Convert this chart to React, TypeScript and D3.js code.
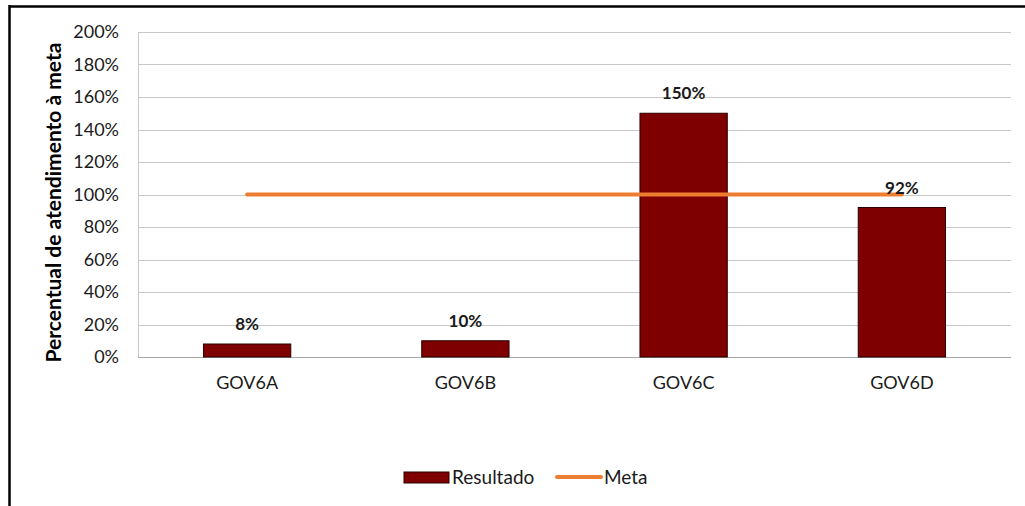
import { useEffect, useRef } from 'react';
import * as d3 from 'd3';

const categories = ['GOV6A', 'GOV6B', 'GOV6C', 'GOV6D'];
const resultado = [8, 10, 150, 92];
const meta = [100, 100, 100, 100];
const yTicks = [0, 20, 40, 60, 80, 100, 120, 140, 160, 180, 200];

const FONT = 'Lato, "Open Sans", sans-serif';

const App = () => {
    const svgRef = useRef<SVGSVGElement | null>(null);

    useEffect(() => {
        if (!svgRef.current) return;
        const svg = d3.select(svgRef.current);
        svg.selectAll('*').remove();

        const width = 1025;
        const height = 506;
        const margin = { top: 32, right: 14, bottom: 149, left: 138 };

        // outer frame (left and top edges visible)
        svg.append('line').attr('x1', 9).attr('x2', width).attr('y1', 6.5).attr('y2', 6.5)
            .attr('stroke', '#000').attr('stroke-width', 2.5);
        svg.append('line').attr('x1', 9.5).attr('x2', 9.5).attr('y1', 5).attr('y2', height)
            .attr('stroke', '#000').attr('stroke-width', 2.5);

        const x = d3.scaleBand<string>()
            .domain(categories)
            .range([margin.left, width - margin.right])
            .paddingInner(0.6)
            .paddingOuter(0.3);

        const y = d3.scaleLinear()
            .domain([0, 200])
            .range([height - margin.bottom, margin.top]);

        // gridlines
        svg.append('g')
            .selectAll('line')
            .data(yTicks)
            .join('line')
            .attr('x1', margin.left)
            .attr('x2', width - margin.right)
            .attr('y1', (d) => Math.round(y(d)) + 0.5)
            .attr('y2', (d) => Math.round(y(d)) + 0.5)
            .attr('stroke', (d) => (d === 0 ? '#a6a6a6' : '#c8c8c8'))
            .attr('stroke-width', 1);

        // y-axis line
        svg.append('line')
            .attr('x1', margin.left + 0.5).attr('x2', margin.left + 0.5)
            .attr('y1', y(200)).attr('y2', y(0))
            .attr('stroke', '#c8c8c8');

        // y tick labels
        const yAxis = svg.append('g')
            .attr('transform', `translate(${margin.left},0)`)
            .call(d3.axisLeft(y).tickValues(yTicks).tickSize(0).tickPadding(19).tickFormat((d) => `${d}%`));
        yAxis.select('.domain').remove();
        yAxis.selectAll('text')
            .attr('font-family', FONT)
            .attr('font-size', 18)
            .attr('fill', '#1a1a1a');

        // x tick labels
        const xAxis = svg.append('g')
            .attr('transform', `translate(0,${height - margin.bottom})`)
            .call(d3.axisBottom(x).tickSize(0).tickPadding(19));
        xAxis.select('.domain').remove();
        xAxis.selectAll('text')
            .attr('font-family', FONT)
            .attr('font-size', 18)
            .attr('fill', '#1a1a1a');

        // bars
        svg.append('g')
            .selectAll('rect')
            .data(resultado)
            .join('rect')
            .attr('x', (_, i) => x(categories[i]) as number)
            .attr('y', (d) => y(d))
            .attr('width', x.bandwidth())
            .attr('height', (d) => y(0) - y(d))
            .attr('fill', '#7f0000')
            .attr('stroke', '#2b0000')
            .attr('stroke-width', 1);

        // meta line
        const line = d3.line<number>()
            .x((_, i) => (x(categories[i]) as number) + x.bandwidth() / 2)
            .y((d) => y(d));
        svg.append('path')
            .datum(meta)
            .attr('fill', 'none')
            .attr('stroke', '#ed7d31')
            .attr('stroke-width', 4)
            .attr('stroke-linecap', 'round')
            .attr('d', line);

        // data labels
        svg.append('g')
            .selectAll('text')
            .data(resultado)
            .join('text')
            .attr('x', (_, i) => (x(categories[i]) as number) + x.bandwidth() / 2)
            .attr('y', (d) => y(d) - 14)
            .attr('text-anchor', 'middle')
            .attr('font-family', FONT)
            .attr('font-weight', 'bold')
            .attr('font-size', 17)
            .attr('fill', '#1a1a1a')
            .text((d) => `${d}%`);

        // y-axis title
        svg.append('text')
            .attr('transform', `translate(61,${(y(0) + y(200)) / 2 + 8}) rotate(-90)`)
            .attr('text-anchor', 'middle')
            .attr('font-family', FONT)
            .attr('font-weight', 'bold')
            .attr('font-size', 21)
            .attr('fill', '#000')
            .text('Percentual de atendimento à meta');

        // legend
        const lg = svg.append('g').attr('font-family', FONT).attr('font-size', 19).attr('fill', '#1a1a1a');
        lg.append('rect').attr('x', 404).attr('y', 472).attr('width', 45).attr('height', 11)
            .attr('fill', '#7f0000').attr('stroke', '#2b0000');
        lg.append('text').attr('x', 452).attr('y', 484).text('Resultado');
        lg.append('line').attr('x1', 557).attr('x2', 601).attr('y1', 477).attr('y2', 477)
            .attr('stroke', '#ed7d31').attr('stroke-width', 4).attr('stroke-linecap', 'round');
        lg.append('text').attr('x', 604).attr('y', 484).text('Meta');
    }, []);

    return (
        <svg
            ref={svgRef}
            width={1025}
            height={506}
            style={{ position: 'absolute', left: 0, top: 0, background: '#fff' }}
        />
    );
};

export default App;
